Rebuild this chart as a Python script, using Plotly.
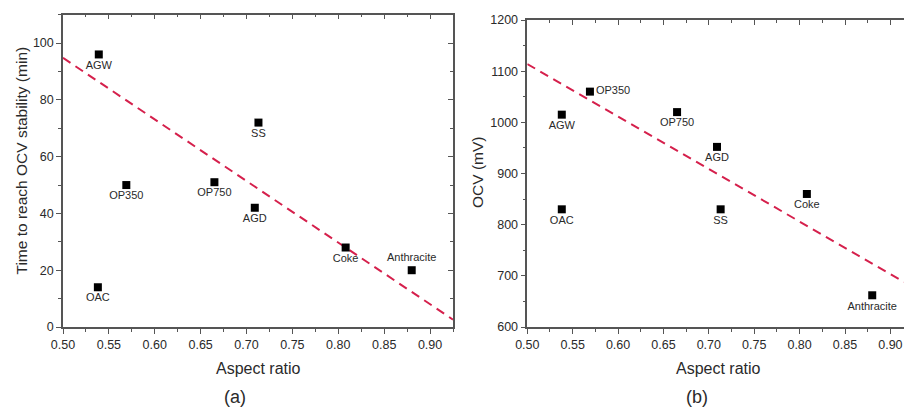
import plotly.graph_objects as go

# ---------------- data ----------------
samples = ["AGW", "OAC", "OP350", "OP750", "AGD", "SS", "Coke", "Anthracite"]
aspect_ratio = [0.539, 0.538, 0.569, 0.665, 0.709, 0.713, 0.808, 0.880]
time_to_stability = [96, 14, 50, 51, 42, 72, 28, 20]          # min, panel (a)
ocv_aspect_ratio = [0.538, 0.538, 0.569, 0.665, 0.709, 0.713, 0.808, 0.880]
ocv_values = [1015, 830, 1060, 1020, 952, 830, 860, 662]        # mV, panel (b)

trend_a_x = [0.50, 0.925]
trend_a_y = [94.8, 2.6]
trend_b_x = [0.50, 0.915]
trend_b_y = [1114, 688]

x_ticks = [0.50, 0.55, 0.60, 0.65, 0.70, 0.75, 0.80, 0.85, 0.90]
y_ticks_a = [0, 20, 40, 60, 80, 100]
y_ticks_b = [600, 700, 800, 900, 1000, 1100, 1200]

# label positions (style)
pos_a = ["bottom center"] * 7 + ["top center"]
pos_b = ["bottom center", "bottom center", "middle right", "bottom center",
         "bottom center", "bottom center", "bottom center", "bottom center"]

W, H = 904, 408
FONT = "Liberation Sans, Arial, sans-serif"
AX = "#555555"
TXT = "#2a2a2a"
RED = "#d5204c"

fig = go.Figure()

fig.add_trace(go.Scatter(
    x=trend_a_x, y=trend_a_y, mode="lines",
    line=dict(color=RED, width=2, dash="9px,6px"),
    xaxis="x", yaxis="y", showlegend=False, hoverinfo="skip"))
fig.add_trace(go.Scatter(
    x=aspect_ratio, y=time_to_stability, mode="markers+text",
    text=samples, textposition=pos_a,
    textfont=dict(family=FONT, size=11, color=TXT),
    marker=dict(symbol="square", size=8, color="black"),
    xaxis="x", yaxis="y", showlegend=False, cliponaxis=False))

fig.add_trace(go.Scatter(
    x=trend_b_x, y=trend_b_y, mode="lines",
    line=dict(color=RED, width=2, dash="9px,6px"),
    xaxis="x2", yaxis="y2", showlegend=False, hoverinfo="skip"))
fig.add_trace(go.Scatter(
    x=ocv_aspect_ratio, y=ocv_values, mode="markers+text",
    text=samples, textposition=pos_b,
    textfont=dict(family=FONT, size=11, color=TXT),
    marker=dict(symbol="square", size=8, color="black"),
    xaxis="x2", yaxis="y2", showlegend=False, cliponaxis=False))

# invisible carriers so the mirrored frame axes (top / right) are drawn
for xa, ya, xs, ys in [("x3", "y", aspect_ratio, time_to_stability),
                       ("x", "y3", aspect_ratio, time_to_stability),
                       ("x4", "y2", ocv_aspect_ratio, ocv_values)]:
    fig.add_trace(go.Scatter(x=xs[:1], y=ys[:1], mode="markers", opacity=0,
                             xaxis=xa, yaxis=ya, showlegend=False, hoverinfo="skip"))

dom_xa = [63 / W, 453 / W]
dom_xb = [527.3 / W, 1.0]
dom_ya = [(H - 327) / H, (H - 14.7) / H]
dom_yb = [(H - 327) / H, (H - 20) / H]

common = dict(showline=True, linecolor=AX, linewidth=1.5, showgrid=False,
              zeroline=False, tickcolor=AX, tickwidth=1.2, automargin=False,
              tickfont=dict(family=FONT, size=12.5, color=TXT))

xa_range = [0.5, 0.925]
xb_range = [0.5, 0.915]

fig.update_layout(
    width=W, height=H, margin=dict(l=0, r=0, t=0, b=0),
    paper_bgcolor="white", plot_bgcolor="white",
    xaxis=dict(domain=dom_xa, anchor="y", range=xa_range, tickvals=x_ticks,
               tickformat=".2f", ticks="outside", ticklen=5,
               minor=dict(dtick=0.025, tick0=0.5, ticks="outside", ticklen=3, tickcolor=AX),
               **common),
    yaxis=dict(domain=dom_ya, anchor="x", range=[0, 110], tickvals=y_ticks_a,
               ticks="outside", ticklen=5,
               minor=dict(dtick=10, tick0=0, ticks="outside", ticklen=3, tickcolor=AX),
               **common),
    xaxis3=dict(overlaying="x", side="top", anchor="y", range=xa_range, tickvals=x_ticks,
                ticks="inside", ticklen=5, showticklabels=False,
                minor=dict(dtick=0.025, tick0=0.5, ticks="inside", ticklen=3, tickcolor=AX),
                **common),
    yaxis3=dict(overlaying="y", side="right", anchor="x", range=[0, 110], tickvals=y_ticks_a,
                ticks="inside", ticklen=5, showticklabels=False,
                minor=dict(dtick=10, tick0=0, ticks="inside", ticklen=3, tickcolor=AX),
                **common),
    xaxis2=dict(domain=dom_xb, anchor="y2", range=xb_range, tickvals=x_ticks,
                tickformat=".2f", ticks="outside", ticklen=5,
                minor=dict(dtick=0.025, tick0=0.5, ticks="outside", ticklen=3, tickcolor=AX),
                **common),
    yaxis2=dict(domain=dom_yb, anchor="x2", range=[600, 1200], tickvals=y_ticks_b,
                ticks="outside", ticklen=5,
                minor=dict(dtick=50, tick0=600, ticks="outside", ticklen=3, tickcolor=AX),
                **common),
    xaxis4=dict(overlaying="x2", side="top", anchor="y2", range=xb_range, tickvals=x_ticks,
                ticks="inside", ticklen=5, showticklabels=False,
                minor=dict(dtick=0.025, tick0=0.5, ticks="inside", ticklen=3, tickcolor=AX),
                **common),
)

ann_font = dict(family=FONT, size=16, color=TXT)
annotations = [
    dict(text="Time to reach OCV stability (min)", x=21.5 / W, y=1 - 161 / H, textangle=-90,
         font=dict(family=FONT, size=15.5, color=TXT)),
    dict(text="Aspect ratio", x=258 / W, y=1 - 368 / H, font=ann_font),
    dict(text="(a)", x=235 / W, y=1 - 397 / H, font=dict(family=FONT, size=18, color=TXT)),
    dict(text="OCV (mV)", x=477 / W, y=1 - 172 / H, textangle=-90,
         font=dict(family=FONT, size=15.5, color=TXT)),
    dict(text="Aspect ratio", x=718 / W, y=1 - 368 / H, font=ann_font),
    dict(text="(b)", x=697 / W, y=1 - 397 / H, font=dict(family=FONT, size=18, color=TXT)),
]
for a in annotations:
    a.update(xref="paper", yref="paper", showarrow=False, xanchor="center", yanchor="middle")
fig.update_layout(annotations=annotations)

fig.write_html("out.html", config={"displayModeBar": False},
               post_script="document.body.style.margin='0';document.body.style.overflow='hidden';")
